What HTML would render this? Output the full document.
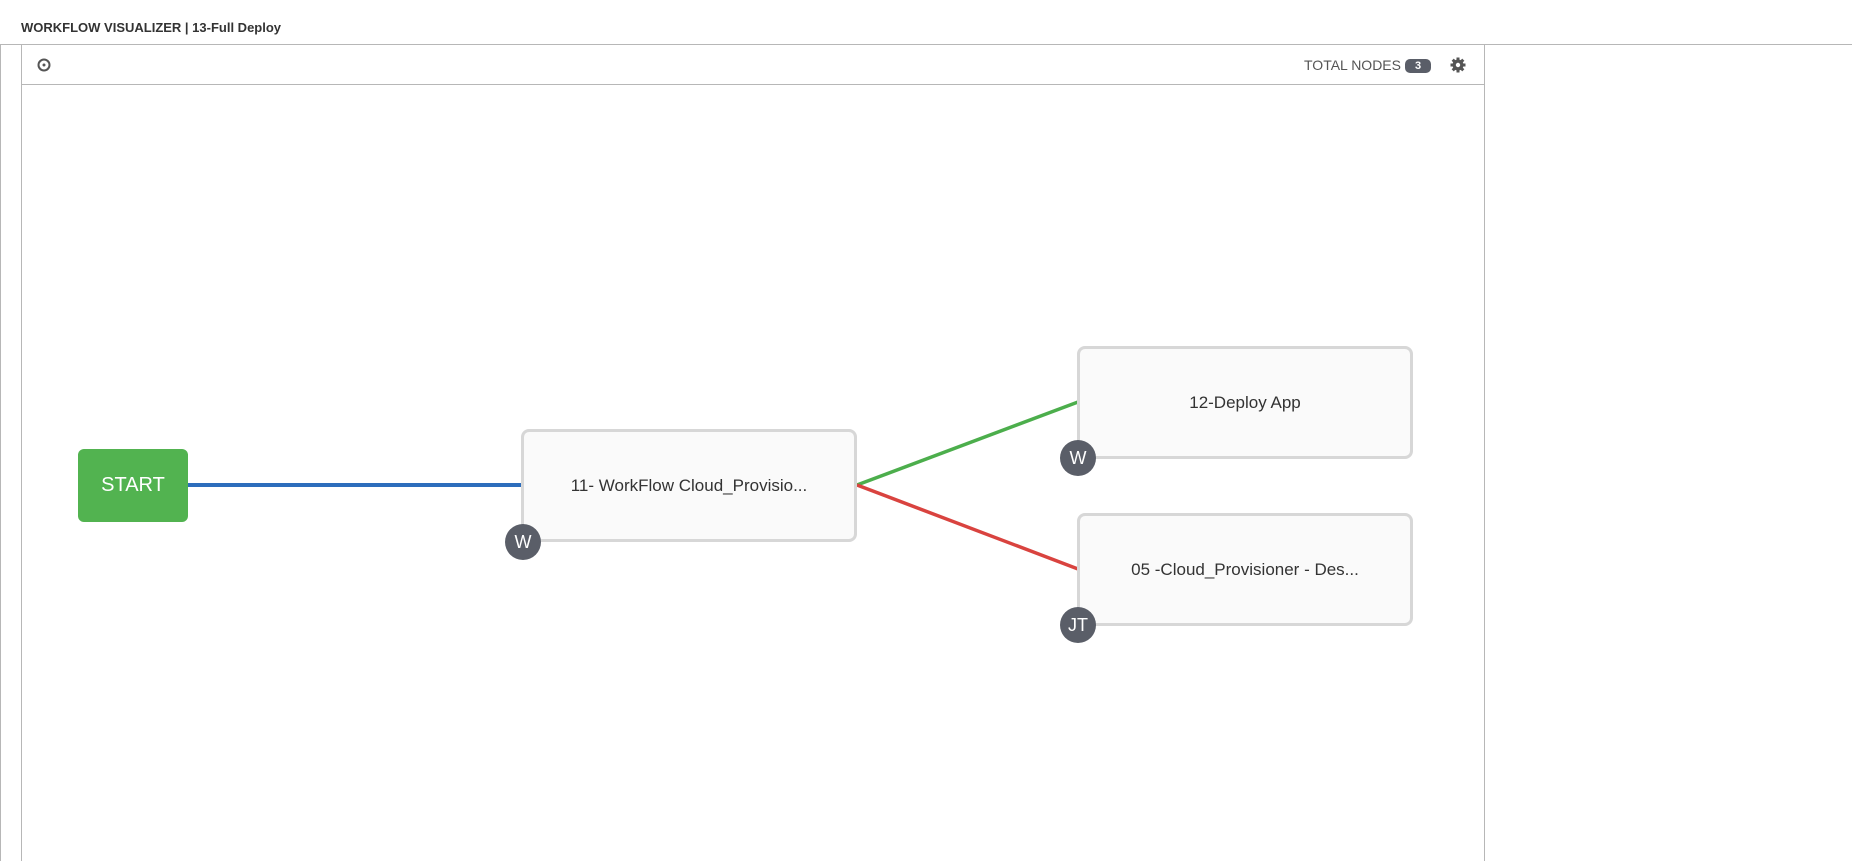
<!DOCTYPE html>
<html style="overflow:hidden;height:861px"><head><style>
body{margin:0;width:1852px;height:861px;background:#fff;font-family:"Liberation Sans",sans-serif;overflow:hidden;position:relative}
.t{position:absolute;left:21px;top:20px;font-size:13px;font-weight:bold;color:#333}
.lb{position:absolute;left:0;top:45px;width:1px;height:816px;background:#b7b7b7}
.tl{position:absolute;left:0;top:44px;width:1852px;height:1px;background:#b7b7b7}
.panel{position:absolute;left:21px;top:44px;width:1464px;height:817px;border:1px solid #b7b7b7;border-bottom:none;box-sizing:border-box}
.hd{position:absolute;left:21px;top:84px;width:1464px;height:1px;background:#b7b7b7}
.node{position:absolute;width:336px;height:113px;box-sizing:border-box;border:3px solid #d7d7d7;border-radius:8px;background:#fafafa;color:#333;font-size:17px;display:flex;align-items:center;justify-content:center}
.b{position:absolute;width:36px;height:36px;border-radius:50%;background:#5a5e68;color:#fff;font-size:18px;display:flex;align-items:center;justify-content:center}
</style></head><body>
<div class="t">WORKFLOW VISUALIZER | 13-Full Deploy</div>
<div class="tl"></div><div class="lb"></div>
<div class="panel"></div><div class="hd"></div>
<svg style="position:absolute;left:37px;top:58px" width="14" height="14"><circle cx="7" cy="7" r="5.5" fill="none" stroke="#555" stroke-width="2"/><circle cx="7" cy="7" r="1.5" fill="#555"/></svg>
<div style="position:absolute;left:1304px;top:57px;font-size:14px;color:#555">TOTAL NODES</div>
<div style="position:absolute;left:1405px;top:59px;width:26px;height:14px;border-radius:5px;background:#5a5e68;color:#fff;font-size:11px;text-align:center;line-height:14px;font-weight:bold">3</div>
<svg style="position:absolute;left:1450px;top:57px" width="16" height="16" viewBox="0 0 16 16"><g fill="#555"><circle cx="8" cy="8" r="5.5"/><rect x="6.5" y="0.5" width="3" height="15"/><rect x="0.5" y="6.5" width="15" height="3"/><rect x="6.5" y="0.5" width="3" height="15" transform="rotate(45 8 8)"/><rect x="6.5" y="0.5" width="3" height="15" transform="rotate(-45 8 8)"/></g><circle cx="8" cy="8" r="2.2" fill="#fff"/></svg>
<svg style="position:absolute;left:0;top:0" width="1852" height="861">
<line x1="188" y1="485" x2="522" y2="485" stroke="#2d6dbc" stroke-width="4"/>
<line x1="857" y1="485" x2="1078" y2="402" stroke="#4cae4c" stroke-width="3.5"/>
<line x1="857" y1="485" x2="1078" y2="569" stroke="#d9433f" stroke-width="3.5"/>
</svg>
<div style="position:absolute;left:78px;top:449px;width:110px;height:73px;border-radius:6px;background:#52b350;color:#fff;font-size:20px;display:flex;align-items:center;justify-content:center">START</div>
<div class="node" style="left:521px;top:429px">11- WorkFlow Cloud_Provisio...</div>
<div class="node" style="left:1077px;top:346px">12-Deploy App</div>
<div class="node" style="left:1077px;top:513px">05 -Cloud_Provisioner - Des...</div>
<div class="b" style="left:505px;top:524px">W</div>
<div class="b" style="left:1060px;top:440px">W</div>
<div class="b" style="left:1060px;top:607px">JT</div>
</body></html>
